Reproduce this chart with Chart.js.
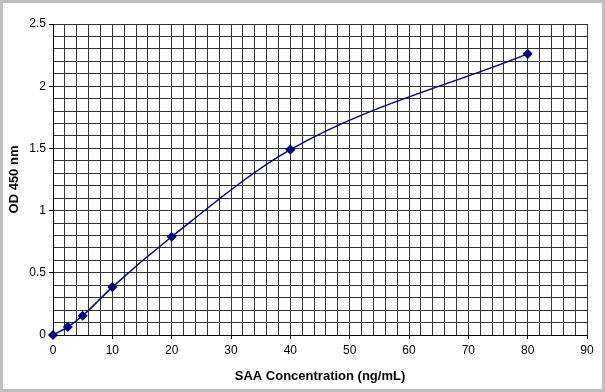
<!DOCTYPE html>
<html>
<head>
<meta charset="utf-8">
<script src="https://cdn.jsdelivr.net/npm/chart.js@4"></script>
<style>
  html, body { margin: 0; padding: 0; background: #fff; }
  #wrap {
    width: 605px; height: 392px; box-sizing: border-box;
    border: 3px solid #c0c0c0; background: #fff; position: relative;
  }
  #chart { display: block; }
</style>
</head>
<body>
<div id="wrap"><canvas id="chart" width="599" height="386"></canvas></div>
<script>
// Standard curve data
const concentrations = [0, 2.5, 5, 10, 20, 40, 80];
const odValues = [0, 0.065, 0.155, 0.385, 0.79, 1.49, 2.26];

const xMajorTicks = [0, 10, 20, 30, 40, 50, 60, 70, 80, 90];
const yMajorTicks = [0, 0.5, 1, 1.5, 2, 2.5];

const lineColor = '#000080';
const gridColor = '#333333';
const labelFont = { family: 'Liberation Sans, Arial, sans-serif', size: 12 };
const titleFont = { family: 'Liberation Sans, Arial, sans-serif', size: 13, weight: 'bold' };

function isMajor(value, list) {
  return list.some(m => Math.abs(m - value) < 1e-6);
}

const ctx = document.getElementById('chart').getContext('2d');
const chart = new Chart(ctx, {
  type: 'scatter',
  data: {
    datasets: [{
      label: 'OD 450 nm',
      data: concentrations.map((c, i) => ({ x: c, y: odValues[i] })),
      showLine: true,
      clip: false,
      borderColor: lineColor,
      backgroundColor: lineColor,
      borderWidth: 1.5,
      cubicInterpolationMode: 'monotone',
      pointStyle: 'rectRot',
      pointRadius: 4,
      pointHoverRadius: 4
    }]
  },
  options: {
    responsive: false,
    animation: false,
    layout: { padding: { top: 21, right: 15, bottom: 0, left: 0 } },
    plugins: {
      legend: { display: false },
      tooltip: { enabled: false }
    },
    scales: {
      x: {
        type: 'linear',
        min: 0,
        max: 90,
        afterFit: function(scale) { scale.height = 54; },
        ticks: {
          stepSize: 2,
          autoSkip: false,
          maxRotation: 0,
          padding: 4,
          color: '#000',
          font: labelFont,
          callback: function(value) {
            return isMajor(value, xMajorTicks) ? String(value) : '';
          }
        },
        grid: {
          color: gridColor,
          lineWidth: 1,
          tickLength: 4,
          tickColor: function(c) {
            return isMajor(c.tick.value, xMajorTicks) ? '#000' : 'rgba(0,0,0,0)';
          }
        },
        border: { color: '#000' },
        title: {
          display: true,
          text: 'SAA Concentration (ng/mL)',
          color: '#000',
          font: titleFont,
          padding: { top: 4, bottom: 5 }
        }
      },
      y: {
        min: 0,
        max: 2.5,
        afterFit: function(scale) { scale.width = 50; },
        ticks: {
          stepSize: 0.1,
          autoSkip: false,
          padding: 3,
          color: '#000',
          font: labelFont,
          callback: function(value) {
            return isMajor(value, yMajorTicks) ? String(Math.round(value * 10) / 10) : '';
          }
        },
        grid: {
          color: gridColor,
          lineWidth: 1,
          tickLength: 4,
          tickColor: function(c) {
            return isMajor(c.tick.value, yMajorTicks) ? '#000' : 'rgba(0,0,0,0)';
          }
        },
        border: { color: '#000' },
        title: {
          display: true,
          text: 'OD 450 nm',
          color: '#000',
          font: titleFont,
          padding: { top: 4, bottom: 4 }
        }
      }
    }
  }
});
</script>
</body>
</html>
